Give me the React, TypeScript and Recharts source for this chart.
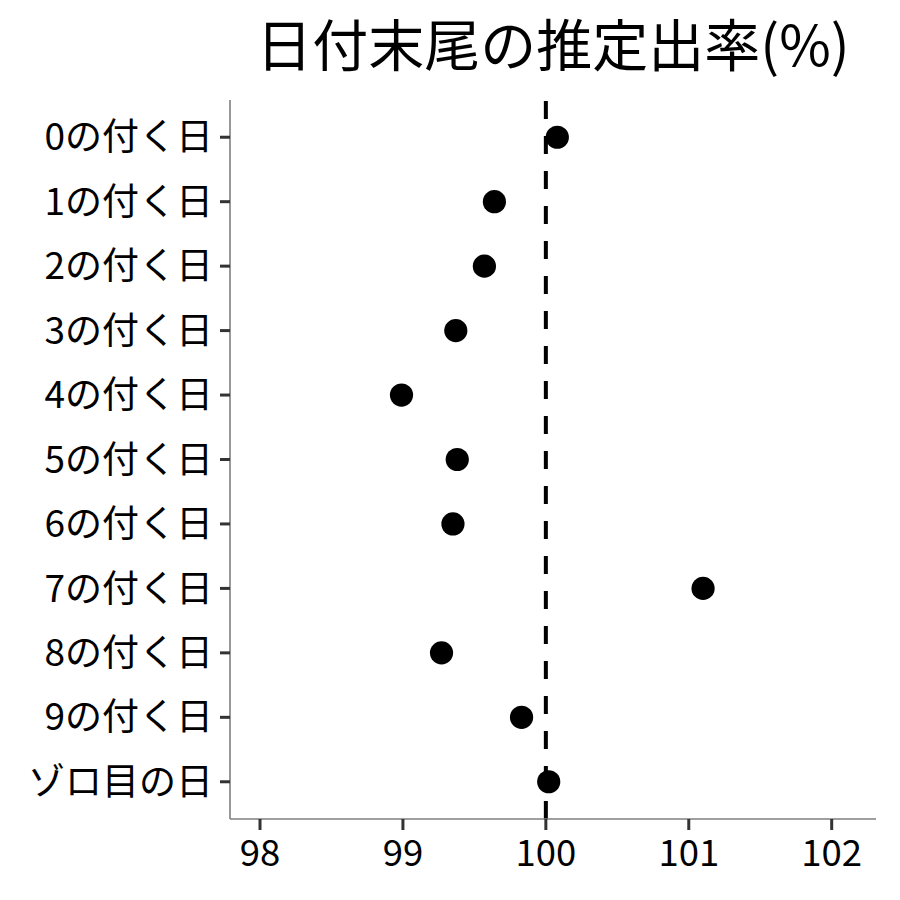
import React from 'react';
import { ScatterChart, Scatter, XAxis, YAxis, ReferenceLine } from 'recharts';

const categories = ['0の付く日', '1の付く日', '2の付く日', '3の付く日', '4の付く日', '5の付く日', '6の付く日', '7の付く日', '8の付く日', '9の付く日', 'ゾロ目の日'];
const rates = [100.08, 99.64, 99.57, 99.37, 98.99, 99.38, 99.35, 101.10, 99.27, 99.83, 100.02];
const xTicks = [98, 99, 100, 101, 102];
const title = '日付末尾の推定出率(%)';

const data = categories.map((c, i) => ({ label: c, rate: rates[i] }));

const FONT = '"Noto Sans CJK JP", "Noto Sans", sans-serif';

const Dot = (props: any) => {
  const { cx, cy } = props;
  return <circle cx={cx} cy={cy} r={11.6} fill="#000" />;
};

export default function App() {
  return (
    <div style={{ position: 'absolute', left: 0, top: 0, width: 900, height: 900, background: '#fff', fontFamily: FONT }}>
      <div
        style={{
          position: 'absolute',
          left: 230,
          width: 646,
          top: 14,
          textAlign: 'center',
          fontSize: 56,
          lineHeight: '56px',
          color: '#000',
          whiteSpace: 'nowrap',
        }}
      >
        {title}
      </div>
      <ScatterChart width={900} height={900} margin={{ top: 100, right: 24, bottom: 0, left: 0 }}>
        <XAxis
          type="number"
          dataKey="rate"
          domain={[97.79, 102.31]}
          ticks={xTicks}
          allowDataOverflow
          height={81}
          axisLine={{ stroke: '#7f7f7f', strokeWidth: 1.6 }}
          tickLine={{ stroke: '#333', strokeWidth: 3 }}
          tickSize={11}
          tickMargin={10}
          tick={{ fill: '#000', fontSize: 36.5, fontFamily: FONT }}
        />
        <YAxis
          type="category"
          dataKey="label"
          ticks={categories}
          width={230}
          reversed
          padding={{ top: 5, bottom: 5 }}
          interval={0}
          axisLine={{ stroke: '#7f7f7f', strokeWidth: 1.6 }}
          tickLine={{ stroke: '#333', strokeWidth: 3 }}
          tickSize={10}
          tickMargin={7}
          tick={{ fill: '#000', fontSize: 37, fontFamily: FONT }}
        />
        <ReferenceLine x={100} stroke="#000" strokeWidth={4} strokeDasharray="18 17" />
        <Scatter data={data} shape={<Dot />} isAnimationActive={false} />
      </ScatterChart>
    </div>
  );
}
